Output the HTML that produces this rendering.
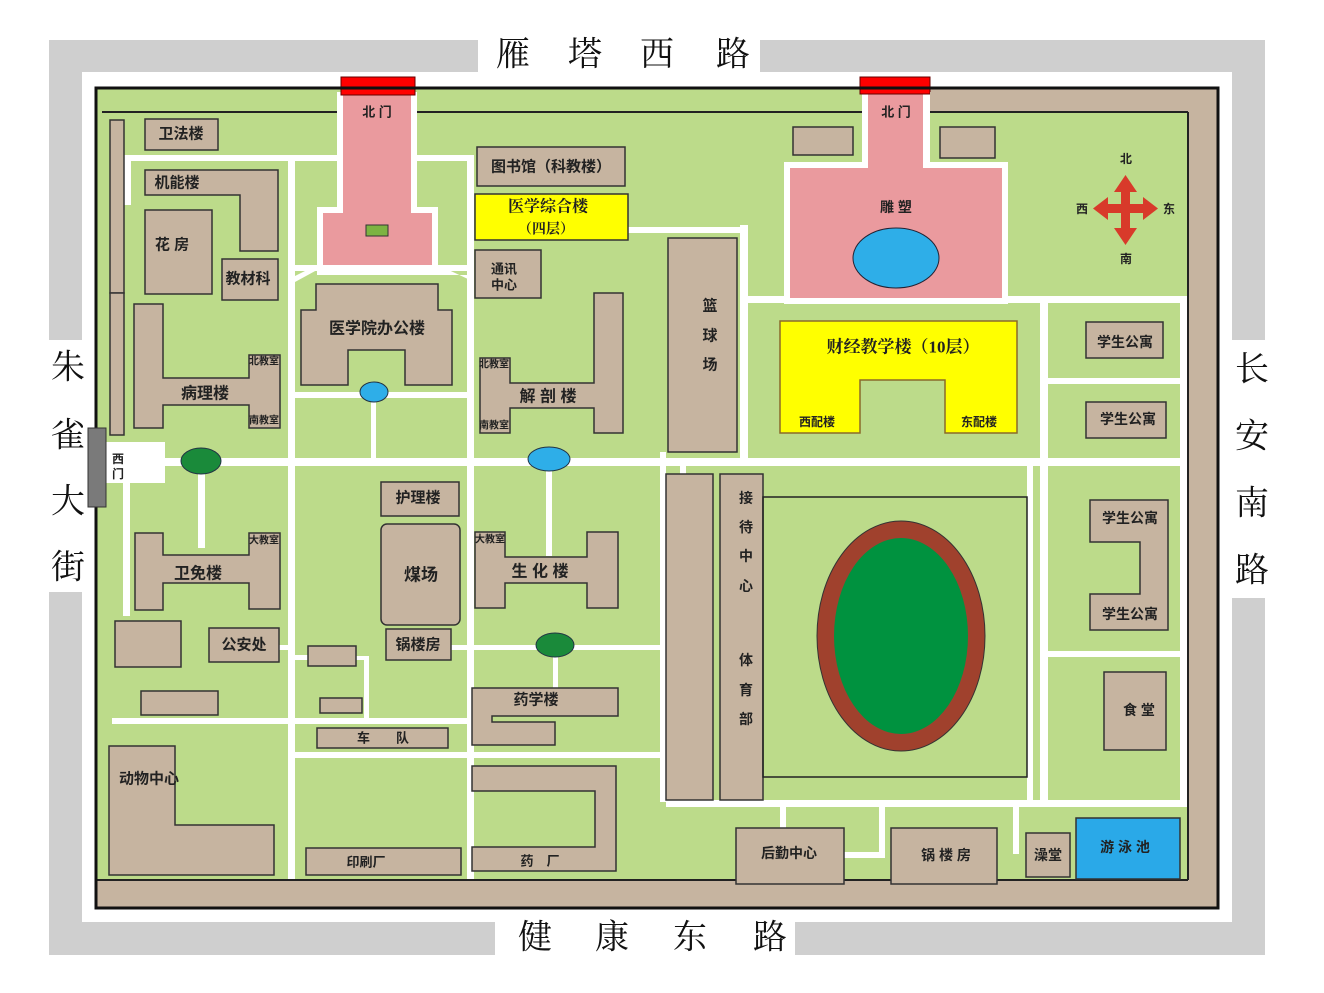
<!DOCTYPE html>
<html><head><meta charset="utf-8"><style>
html,body{margin:0;padding:0;background:#fff;width:1324px;height:993px;overflow:hidden}
svg{display:block}
text{font-family:"Liberation Sans","Noto Sans CJK SC",sans-serif;font-weight:bold;fill:#222;text-anchor:middle;dominant-baseline:central}
.big{font-family:"Liberation Serif","Noto Serif CJK SC",serif;font-weight:normal;font-size:34px;fill:#111}
.b{fill:#c6b4a0;stroke:#333;stroke-width:1.5}
.r{fill:#fff}
</style></head><body>
<svg width="1324" height="993" viewBox="0 0 1324 993">
<rect width="1324" height="993" fill="#fff"/>
<!-- gray road frame -->
<g fill="#cfcfcf">
<rect x="49" y="40" width="429" height="32"/><rect x="760" y="40" width="505" height="32"/>
<rect x="49" y="40" width="33" height="300"/><rect x="49" y="592" width="33" height="363"/>
<rect x="1232" y="40" width="33" height="300"/><rect x="1232" y="598" width="33" height="357"/>
<rect x="49" y="922" width="446" height="33"/><rect x="795" y="922" width="470" height="33"/>
</g>
<text class="big" x="513" y="55">雁</text><text class="big" x="585" y="55">塔</text><text class="big" x="657" y="55">西</text><text class="big" x="733" y="55">路</text>
<text class="big" x="535" y="938">健</text><text class="big" x="612" y="938">康</text><text class="big" x="690" y="938">东</text><text class="big" x="770" y="938">路</text>
<text class="big" x="68" y="368">朱</text><text class="big" x="68" y="436">雀</text><text class="big" x="68" y="502">大</text><text class="big" x="68" y="568">街</text>
<text class="big" x="1252" y="370">长</text><text class="big" x="1252" y="437">安</text><text class="big" x="1252" y="504">南</text><text class="big" x="1252" y="571">路</text>
<!-- campus -->
<rect x="96" y="88" width="1122" height="820" fill="#c6b4a0" stroke="#111" stroke-width="3"/>
<rect x="97" y="89" width="833" height="24" fill="#bcdb8a"/>
<rect x="97" y="112" width="1091" height="768" fill="#bcdb8a" stroke="#222" stroke-width="2"/>
<rect x="97" y="89" width="5" height="790" fill="#bcdb8a"/>
<!-- roads -->
<g class="r">
<rect x="125" y="155" width="345" height="6"/><rect x="124" y="155" width="7" height="50"/>
<rect x="288" y="155" width="7" height="727"/><rect x="467" y="155" width="7" height="727"/>
<rect x="295" y="265" width="172" height="6"/>
<rect x="295" y="392" width="175" height="6"/><rect x="371" y="385" width="5" height="75"/>
<rect x="125" y="458" width="1063" height="8"/>
<rect x="546" y="466" width="6" height="90"/><rect x="198" y="466" width="7" height="82"/>
<rect x="123" y="466" width="7" height="150"/>
<rect x="451" y="645" width="215" height="5"/><rect x="279" y="645" width="10" height="5"/>
<rect x="553" y="645" width="5" height="43"/>
<rect x="295" y="655" width="13" height="5"/><rect x="356" y="656" width="13" height="4"/><rect x="364" y="656" width="5" height="64"/>
<rect x="112" y="718" width="358" height="6"/>
<rect x="295" y="752" width="371" height="6"/>
<rect x="628" y="227" width="112" height="6"/>
<rect x="660" y="452" width="6" height="350"/><rect x="680" y="462" width="6" height="12"/>
<rect x="666" y="800" width="522" height="7"/>
<rect x="743" y="296" width="445" height="7"/><rect x="740" y="225" width="8" height="240"/>
<rect x="1040" y="300" width="8" height="505"/>
<rect x="1048" y="378" width="140" height="6"/>
<rect x="1048" y="651" width="132" height="6"/>
<rect x="1180" y="300" width="8" height="505"/>
<rect x="1027" y="466" width="6" height="340"/>
<rect x="780" y="806" width="6" height="28"/><rect x="879" y="806" width="6" height="52"/><rect x="844" y="852" width="40" height="6"/>
<rect x="1013" y="806" width="6" height="48"/>
</g>
<!-- north gate 1 -->
<polygon points="337,92 417,92 417,207 438,207 438,265 470,280 470,275 317,275 317,207 337,207" fill="#fff"/>
<polygon points="317,270 295,282 295,276 317,265" fill="#fff"/>
<polygon points="343,92 411,92 411,213 432,213 432,265 323,265 323,213 343,213" fill="#ea9a9e"/>
<rect x="341" y="77" width="74" height="18" fill="#f00" stroke="#600"/>
<rect x="366" y="225" width="22" height="11" fill="#7cb342" stroke="#333"/>
<text x="377" y="112" style="font-size:13px">北 门</text>
<!-- north gate 2 -->
<polygon points="862,92 930,92 930,162 1008,162 1008,304 784,304 784,162 862,162" fill="#fff"/>
<polygon points="868,92 923,92 923,168 1002,168 1002,298 790,298 790,168 868,168" fill="#ea9a9e"/>
<rect x="860" y="77" width="70" height="17" fill="#f00" stroke="#600"/>
<text x="896" y="112" style="font-size:13px">北 门</text>
<text x="896" y="207" style="font-size:14px">雕 塑</text>
<ellipse cx="896" cy="258" rx="43" ry="30" fill="#2eaee8" stroke="#223"/>
<rect x="930" y="92" width="288" height="20" fill="#c6b4a0"/>
<rect x="1188" y="92" width="30" height="816" fill="#c6b4a0"/>
<rect x="97" y="880" width="1121" height="28" fill="#c6b4a0"/>
<line x1="96" y1="880" x2="1188" y2="880" stroke="#222" stroke-width="2"/>
<line x1="1188" y1="112" x2="1188" y2="880" stroke="#222" stroke-width="2"/>
<line x1="930" y1="112" x2="1188" y2="112" stroke="#222" stroke-width="2"/>
<rect x="96" y="88" width="1122" height="820" fill="none" stroke="#111" stroke-width="3"/>
<!-- west gate -->
<rect x="106" y="442" width="59" height="41" fill="#fff"/>
<rect x="88" y="428" width="18" height="79" fill="#7a7a7a" stroke="#333"/>
<text x="118" y="459" style="font-size:12px">西</text><text x="118" y="474" style="font-size:12px">门</text>
<!-- buildings -->
<g class="b">
<rect x="110" y="120" width="14" height="173"/><rect x="110" y="293" width="14" height="142"/>
<rect x="145" y="119" width="73" height="31"/>
<polygon points="145,170 278,170 278,251 240,251 240,195 145,195"/>
<rect x="145" y="210" width="67" height="84"/>
<rect x="222" y="259" width="56" height="41"/>
<polygon points="134,304 163,304 163,378 249,378 249,355 280,355 280,428 249,428 249,405 163,405 163,428 134,428"/>
<polygon points="316,284 438,284 438,310 452,310 452,385 405,385 405,350 348,350 348,385 301,385 301,310 316,310"/>
<rect x="477" y="147" width="148" height="39"/>
<rect x="475" y="250" width="66" height="48"/>
<polygon points="480,358 510,358 510,383 594,383 594,293 623,293 623,433 594,433 594,408 510,408 510,433 480,433"/>
<rect x="668" y="238" width="69" height="214"/>
<polygon points="135,533 163,533 163,555 249,555 249,533 280,533 280,609 249,609 249,583 163,583 163,610 135,610"/>
<rect x="381" y="482" width="78" height="34"/>
<rect x="381" y="524" width="79" height="101" rx="6"/>
<rect x="386" y="629" width="65" height="31"/>
<rect x="209" y="628" width="70" height="34"/>
<rect x="115" y="621" width="66" height="46"/>
<polygon points="475,532 505,532 505,557 587,557 587,532 618,532 618,608 587,608 587,583 505,583 505,608 475,608"/>
<rect x="308" y="646" width="48" height="20"/>
<rect x="320" y="698" width="42" height="15"/>
<rect x="141" y="691" width="77" height="24"/>
<rect x="317" y="728" width="131" height="20"/>
<polygon points="472,688 618,688 618,716 492,716 492,722 555,722 555,745 472,745"/>
<polygon points="109,746 175,746 175,825 274,825 274,875 109,875"/>
<rect x="306" y="848" width="155" height="27"/>
<polygon points="472,766 616,766 616,871 472,871 472,847 595,847 595,791 472,791"/>
<rect x="666" y="474" width="47" height="326"/>
<rect x="720" y="474" width="43" height="326"/>
<rect x="793" y="127" width="60" height="28"/>
<rect x="940" y="127" width="55" height="31"/>
<rect x="1086" y="322" width="77" height="36"/>
<rect x="1086" y="402" width="80" height="36"/>
<polygon points="1090,500 1168,500 1168,630 1090,630 1090,594 1140,594 1140,542 1090,542"/>
<rect x="1104" y="672" width="62" height="78"/>
<rect x="736" y="828" width="108" height="56"/>
<rect x="891" y="828" width="106" height="56"/>
<rect x="1026" y="833" width="44" height="44"/>
</g>
<rect x="475" y="194" width="153" height="46" fill="#ffff00" stroke="#333" stroke-width="1.5"/>
<polygon points="780,321 1017,321 1017,433 945,433 945,380 860,380 860,433 780,433" fill="#ffff00" stroke="#8a6a2a" stroke-width="1.5"/>
<rect x="1076" y="818" width="104" height="61" fill="#2aa9e8" stroke="#333" stroke-width="1.5"/>
<rect x="763" y="497" width="264" height="280" fill="none" stroke="#222" stroke-width="1.5"/>
<ellipse cx="901" cy="636" rx="84" ry="115" fill="#a0412d" stroke="#333"/>
<ellipse cx="901" cy="636" rx="67" ry="98" fill="#00923f"/>
<ellipse cx="201" cy="461" rx="20" ry="13" fill="#1a8a3a" stroke="#234"/>
<ellipse cx="374" cy="392" rx="14" ry="10" fill="#2eaee8" stroke="#234"/>
<ellipse cx="549" cy="459" rx="21" ry="12" fill="#2eaee8" stroke="#234"/>
<ellipse cx="555" cy="645" rx="19" ry="12" fill="#1a8a3a" stroke="#234"/>
<!-- compass -->
<g fill="#d83a2a">
<rect x="1121" y="188" width="9" height="42"/><rect x="1104" y="204" width="44" height="9"/>
<polygon points="1125.5,175 1137,192 1114,192"/><polygon points="1125.5,245 1137,228 1114,228"/>
<polygon points="1093,208.5 1108,197 1108,220"/><polygon points="1158,208.5 1143,197 1143,220"/>
</g>
<g style="font-size:12px">
<text x="1126" y="159">北</text><text x="1126" y="259">南</text><text x="1082" y="209">西</text><text x="1169" y="209">东</text>
</g>
<!-- labels -->
<g style="font-size:15px">
<text x="181" y="134">卫法楼</text>
<text x="177" y="183">机能楼</text>
<text x="172" y="245">花 房</text>
<text x="248" y="279">教材科</text>
<text x="205" y="394" style="font-size:16px">病理楼</text>
<text x="377" y="329" style="font-size:16px">医学院办公楼</text>
<text x="551" y="167">图书馆（科教楼）</text>
<text x="548" y="207" style="font-size:16px;font-family:'Liberation Serif','Noto Serif CJK SC',serif">医学综合楼</text>
<text x="546" y="230" style="font-size:14px;font-family:'Liberation Serif','Noto Serif CJK SC',serif">（四层）</text>
<text x="504" y="269" style="font-size:13px">通讯</text><text x="504" y="285" style="font-size:13px">中心</text>
<text x="548" y="397" style="font-size:16px">解 剖 楼</text>
<text x="710" y="306">篮</text><text x="710" y="336">球</text><text x="710" y="365">场</text>
<text x="198" y="574" style="font-size:16px">卫免楼</text>
<text x="418" y="498">护理楼</text>
<text x="421" y="575" style="font-size:17px">煤场</text>
<text x="418" y="645">锅楼房</text>
<text x="244" y="645">公安处</text>
<text x="540" y="572" style="font-size:16px">生 化 楼</text>
<text x="536" y="700">药学楼</text>
<text x="383" y="738" style="font-size:13px">车　　队</text>
<text x="149" y="779">动物中心</text>
<text x="366" y="862" style="font-size:13px">印刷厂</text>
<text x="540" y="861" style="font-size:13px">药　厂</text>
<text x="746" y="498" style="font-size:14px">接</text><text x="746" y="527" style="font-size:14px">待</text><text x="746" y="556" style="font-size:14px">中</text><text x="746" y="586" style="font-size:14px">心</text>
<text x="746" y="660" style="font-size:14px">体</text><text x="746" y="690" style="font-size:14px">育</text><text x="746" y="719" style="font-size:14px">部</text>
<text x="903" y="347" style="font-size:17px;font-family:'Liberation Serif','Noto Serif CJK SC',serif">财经教学楼（10层）</text>
<text x="1125" y="342" style="font-size:14px">学生公寓</text>
<text x="1128" y="419" style="font-size:14px">学生公寓</text>
<text x="1130" y="518" style="font-size:14px">学生公寓</text>
<text x="1130" y="614" style="font-size:14px">学生公寓</text>
<text x="1139" y="710" style="font-size:14px">食 堂</text>
<text x="789" y="853" style="font-size:14px">后勤中心</text>
<text x="946" y="855" style="font-size:14px">锅 楼 房</text>
<text x="1048" y="855" style="font-size:14px">澡堂</text>
<text x="1125" y="847" style="font-size:14px">游 泳 池</text>
</g>
<g style="font-size:10px;font-weight:normal">
<text x="264" y="362">北教室</text><text x="264" y="421">南教室</text>
<text x="494" y="365">北教室</text><text x="494" y="426">南教室</text>
<text x="264" y="541">大教室</text><text x="490" y="540">大教室</text>
<text x="817" y="422" style="font-size:12px">西配楼</text><text x="979" y="422" style="font-size:12px">东配楼</text>
</g>
</svg>
</body></html>
